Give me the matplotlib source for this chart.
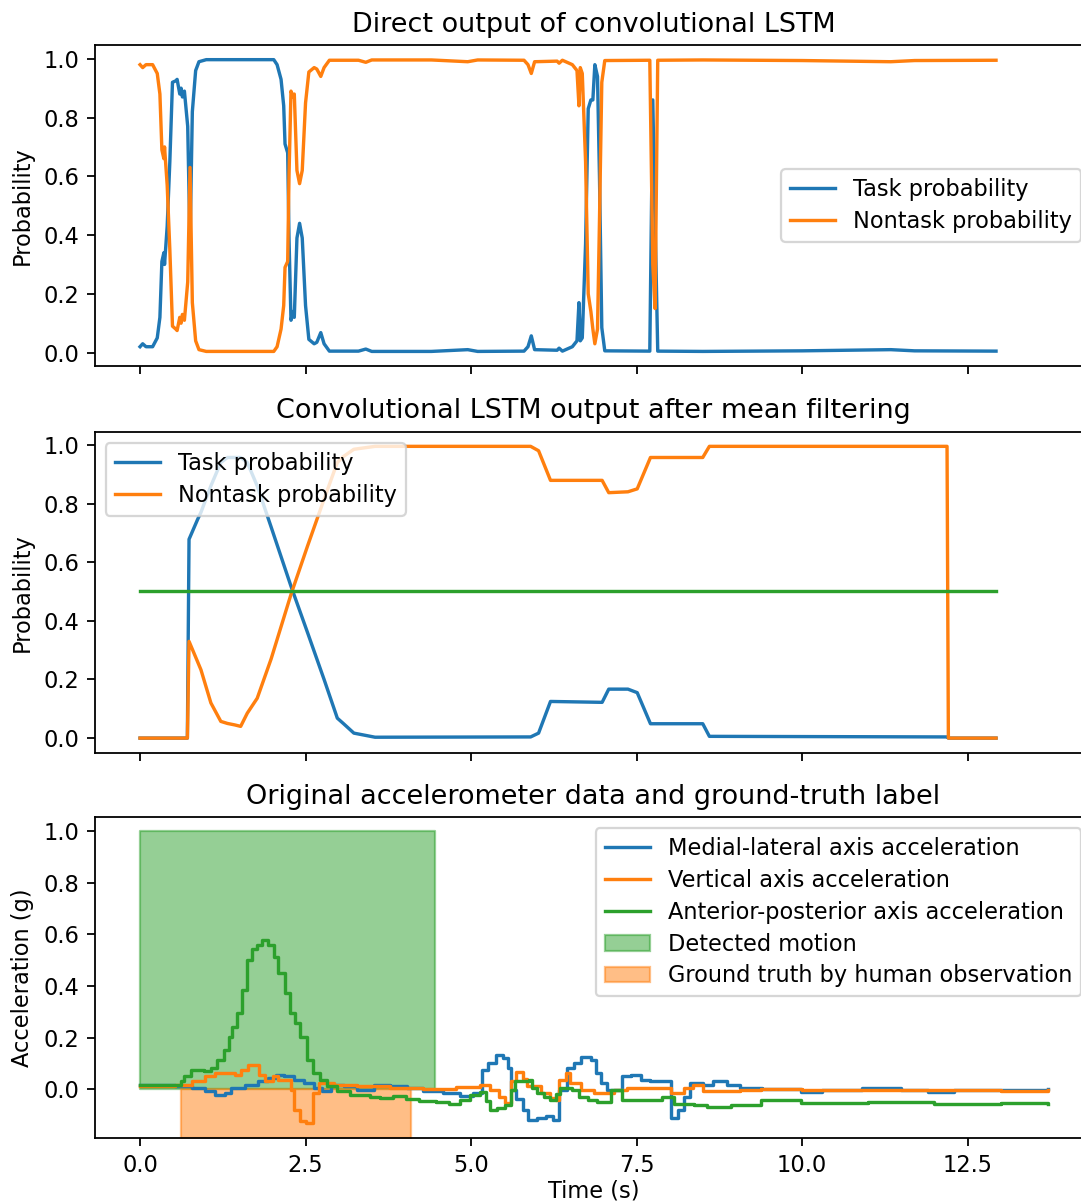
import matplotlib
matplotlib.use('Agg')
import matplotlib.pyplot as plt
from matplotlib.ticker import MultipleLocator

# direct output of the conv LSTM
top_t = [0.0, 0.04, 0.09, 0.19, 0.26, 0.30, 0.33, 0.36, 0.37, 0.41, 0.45, 0.49, 0.54, 0.56,
         0.60, 0.62, 0.64, 0.67, 0.72, 0.755, 0.79, 0.84, 0.89, 1.00, 2.02, 2.07, 2.13, 2.17,
         2.19, 2.23, 2.25, 2.28, 2.31, 2.33, 2.37, 2.41, 2.45, 2.50, 2.55, 2.63, 2.67, 2.73,
         2.78, 2.86, 3.30, 3.41, 3.50, 4.40, 4.95, 5.10, 5.80, 5.86, 5.91, 5.96, 6.30, 6.33,
         6.38, 6.53, 6.60, 6.63, 6.65, 6.68, 6.73, 6.77, 6.81, 6.84, 6.87, 6.91, 6.94, 6.975,
         7.02, 7.70, 7.745, 7.78, 7.82, 8.50, 10.0, 11.34, 11.7, 12.93]
top_task = [0.02, 0.03, 0.02, 0.02, 0.05, 0.12, 0.31, 0.34, 0.30, 0.43, 0.65, 0.92, 0.925, 0.93,
            0.88, 0.90, 0.87, 0.89, 0.77, 0.37, 0.82, 0.96, 0.99, 0.997, 0.997, 0.98, 0.93, 0.84,
            0.71, 0.68, 0.39, 0.11, 0.14, 0.12, 0.39, 0.44, 0.39, 0.16, 0.045, 0.03, 0.035, 0.068,
            0.03, 0.005, 0.005, 0.012, 0.004, 0.004, 0.01, 0.004, 0.005, 0.02, 0.057, 0.01, 0.008, 0.015,
            0.005, 0.02, 0.04, 0.17, 0.04, 0.05, 0.37, 0.83, 0.86, 0.86, 0.98, 0.94, 0.60, 0.085,
            0.006, 0.005, 0.86, 0.45, 0.005, 0.004, 0.006, 0.01, 0.006, 0.005]
top_nontask = [0.98, 0.97, 0.98, 0.98, 0.95, 0.88, 0.69, 0.66, 0.70, 0.57, 0.35, 0.09, 0.08, 0.075,
               0.12, 0.10, 0.13, 0.11, 0.24, 0.63, 0.17, 0.04, 0.01, 0.004, 0.004, 0.02, 0.08, 0.16,
               0.29, 0.31, 0.60, 0.89, 0.87, 0.88, 0.62, 0.575, 0.62, 0.85, 0.955, 0.97, 0.965, 0.94,
               0.97, 0.995, 0.995, 0.988, 0.996, 0.996, 0.99, 0.996, 0.995, 0.98, 0.95, 0.99, 0.992, 0.985,
               0.995, 0.98, 0.96, 0.84, 0.97, 0.95, 0.65, 0.20, 0.14, 0.08, 0.03, 0.08, 0.45, 0.92,
               0.994, 0.995, 0.30, 0.15, 0.995, 0.996, 0.994, 0.99, 0.994, 0.995]

# after mean filtering
mid_t = [0.0, 0.715, 0.74, 0.87, 0.92, 1.07, 1.22, 1.32, 1.43, 1.52, 1.62, 1.77, 1.98, 2.28,
         2.53, 2.78, 2.98, 3.07, 3.23, 3.55, 5.90, 6.02, 6.20, 6.98, 7.08, 7.37, 7.51, 7.71,
         8.50, 8.60, 12.19, 12.21, 12.93]
mid_task = [0.0, 0.0, 0.678, 0.746, 0.77, 0.86, 0.94, 0.957, 0.957, 0.957, 0.94, 0.86, 0.72, 0.518,
            0.36, 0.20, 0.068, 0.05, 0.017, 0.003, 0.004, 0.017, 0.125, 0.122, 0.167, 0.167, 0.155, 0.049,
            0.049, 0.006, 0.004, 0.0, 0.0]
mid_nontask = [0.0, 0.0, 0.33, 0.26, 0.233, 0.12, 0.057, 0.05, 0.045, 0.04, 0.085, 0.136, 0.27, 0.49,
               0.655, 0.815, 0.94, 0.96, 0.985, 0.995, 0.995, 0.98, 0.879, 0.879, 0.837, 0.84, 0.85, 0.957,
               0.957, 0.995, 0.995, 0.0, 0.0]
thresh_t = [0.0, 12.93]
thresh = [0.5, 0.5]

# accelerometer
ml_t = [0, 0.53, 0.78, 0.98, 1.13, 1.28, 1.38, 1.58, 1.78, 1.93, 2.05, 2.18, 2.33, 2.48, 2.63,
        2.75, 2.88, 3.08, 3.28, 3.53, 3.78, 4.03, 4.28, 4.58, 4.83, 5.03, 5.16, 5.26, 5.38, 5.48,
        5.56, 5.61, 5.68, 5.78, 5.86, 6.0, 6.13, 6.24, 6.33, 6.45, 6.56, 6.66, 6.81, 6.88, 6.96,
        7.06, 7.28, 7.41, 7.56, 7.71, 7.86, 8.02, 8.13, 8.21, 8.31, 8.51, 8.66, 8.86, 9.06, 9.4,
        9.98, 10.3, 10.9, 11.5, 11.9, 12.3, 13.0, 13.71]
ml = [0.017, 0.01, 0.003, -0.009, -0.022, -0.016, 0.003, 0.017, 0.03, 0.043, 0.055, 0.049, 0.036, 0.023, 0.003,
      -0.009, 0.017, 0.01, -0.003, 0.017, 0.01, 0.003, -0.009, -0.016, -0.026, -0.016, 0.075, 0.10, 0.133, 0.12,
      0.08, -0.003, -0.04, -0.08, -0.119, -0.113, -0.106, -0.119, -0.003, 0.081, 0.10, 0.126, 0.113, 0.062, 0.023,
      -0.003, 0.049, 0.055, 0.036, 0.03, 0.03, -0.113, -0.08, -0.03, 0.023, 0.017, 0.03, 0.017, 0.005, 0.0,
      -0.013, -0.003, 0.003, -0.003, -0.013, -0.003, -0.005, 0.0]

vt_t = [0, 0.53, 0.78, 0.98, 1.13, 1.43, 1.53, 1.63, 1.80, 1.88, 2.01, 2.08, 2.23, 2.28, 2.33,
        2.41, 2.51, 2.61, 2.71, 2.93, 3.28, 3.78, 4.28, 4.78, 5.13, 5.28, 5.42, 5.52, 5.60, 5.68,
        5.78, 5.85, 6.05, 6.2, 6.28, 6.33, 6.43, 6.50, 6.66, 6.86, 7.16, 7.36, 8.02, 8.21, 8.36,
        8.51, 9.06, 9.38, 10.0, 11.0, 12.0, 13.0, 13.71]
vt = [0.013, 0.017, 0.03, 0.049, 0.062, 0.055, 0.075, 0.094, 0.055, 0.03, 0.049, 0.036, 0.036, -0.003, -0.08,
      -0.125, -0.131, -0.016, 0.023, 0.017, 0.01, 0.003, 0.0, 0.008, 0.017, -0.003, -0.03, -0.055, 0.03, 0.068,
      0.04, 0.01, -0.016, -0.036, -0.043, 0.036, 0.062, 0.023, -0.003, -0.016, -0.003, 0.005, -0.016, 0.005, 0.017,
      -0.009, -0.003, 0.0, -0.003, -0.005, -0.003, -0.006, -0.003]

ap_t = [0, 0.62, 0.67, 0.77, 0.97, 1.07, 1.17, 1.27, 1.34, 1.39, 1.47, 1.54, 1.62, 1.69, 1.77,
        1.84, 1.94, 2.02, 2.09, 2.19, 2.27, 2.34, 2.42, 2.52, 2.62, 2.72, 2.82, 2.97, 3.17, 3.47,
        3.62, 3.82, 4.02, 4.22, 4.47, 4.67, 4.84, 4.99, 5.14, 5.22, 5.29, 5.39, 5.52, 5.60, 5.67,
        5.87, 5.92, 6.0, 6.1, 6.2, 6.28, 6.35, 6.53, 6.63, 6.76, 6.91, 7.11, 7.28, 7.81, 7.89,
        8.06, 8.37, 8.57, 8.92, 9.38, 9.98, 11.0, 12.0, 13.0, 13.71]
ap = [0.017, 0.03, 0.049, 0.075, 0.07, 0.08, 0.113, 0.152, 0.203, 0.24, 0.294, 0.384, 0.50, 0.545, 0.557,
      0.577, 0.557, 0.513, 0.449, 0.371, 0.294, 0.255, 0.203, 0.113, 0.062, 0.036, 0.01, -0.009, -0.022, -0.03,
      -0.036, -0.027, -0.039, -0.048, -0.052, -0.057, -0.043, -0.022, -0.01, -0.048, -0.08, -0.075, -0.061, -0.003, 0.03,
      0.036, 0.005, -0.016, -0.029, -0.044, -0.02, 0.005, -0.003, -0.029, -0.044, -0.05, -0.005, -0.044, -0.043, -0.03,
      -0.057, -0.061, -0.07, -0.061, -0.044, -0.055, -0.052, -0.056, -0.054, -0.056]

detected = [0.0, 4.46]
truth = [0.62, 4.10]

DPI = 162
fig = plt.figure(figsize=(1081 / DPI, 1202 / DPI), dpi=DPI)
w = 0.9229
ax1 = fig.add_axes([0.0876, 0.6955, w, 0.267])
ax2 = fig.add_axes([0.0876, 0.3738, w, 0.267], sharex=ax1)
ax3 = fig.add_axes([0.0876, 0.0532, w, 0.267], sharex=ax1)

ax1.plot(top_t, top_task, label='Task probability')
ax1.plot(top_t, top_nontask, label='Nontask probability')
ax1.set_title('Direct output of convolutional LSTM')
ax1.set_ylabel('Probability')
ax1.legend(loc='center right', labelspacing=0.39)
ax1.tick_params(labelbottom=False)

ax2.plot(mid_t, mid_task, label='Task probability')
ax2.plot(mid_t, mid_nontask, label='Nontask probability')
ax2.plot(thresh_t, thresh)
ax2.set_title('Convolutional LSTM output after mean filtering')
ax2.set_ylabel('Probability')
ax2.legend(loc='upper left', labelspacing=0.39)
ax2.tick_params(labelbottom=False)

ax3.plot(ml_t, ml, drawstyle='steps-post', label='Medial-lateral axis acceleration')
ax3.plot(vt_t, vt, drawstyle='steps-post', label='Vertical axis acceleration')
ax3.plot(ap_t, ap, drawstyle='steps-post', label='Anterior-posterior axis acceleration')
ax3.fill_between(detected, 0, 1, color='tab:green', alpha=0.5, label='Detected motion')
ax3.fill_between(truth, -0.19, 0, color='tab:orange', alpha=0.5, label='Ground truth by human observation')
ax3.set_ylim(-0.19, 1.055)
ax3.set_title('Original accelerometer data and ground-truth label')
ax3.set_ylabel('Acceleration (g)')
ax3.set_xlabel('Time (s)', labelpad=1)
ax3.legend(loc='upper right', labelspacing=0.39)

ax1.set_xlim(-0.685, 14.385)
ax1.xaxis.set_major_locator(MultipleLocator(2.5))

fig.savefig('out.png', dpi=DPI)
